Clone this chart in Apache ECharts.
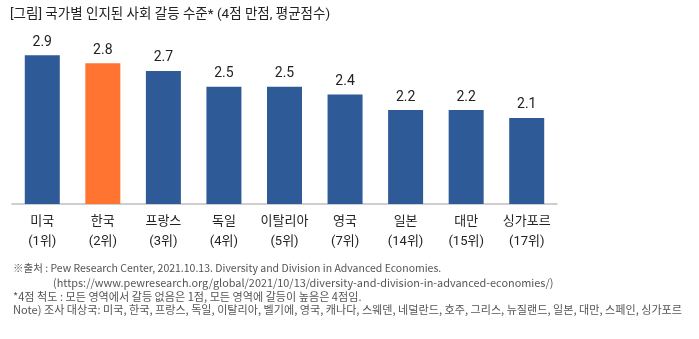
<!DOCTYPE html>
<html>
<head>
<meta charset="utf-8">
<script src="https://cdn.jsdelivr.net/npm/echarts@6/dist/echarts.min.js"></script>
<style>
html,body{margin:0;padding:0;background:#fff;}
#chart{width:699px;height:339px;}
</style>
</head>
<body>
<div id="chart"></div>
<script>
// 국가별 인지된 사회 갈등 수준 (4점 만점, 평균점수)
const countries = ['미국', '한국', '프랑스', '독일', '이탈리아', '영국', '일본', '대만', '싱가포르'];
const ranks = ['(1위)', '(2위)', '(3위)', '(4위)', '(5위)', '(7위)', '(14위)', '(15위)', '(17위)'];
const scores = [2.9, 2.8, 2.7, 2.5, 2.5, 2.4, 2.2, 2.2, 2.1];
const highlight = '한국';

const titleText = '[그림] 국가별 인지된 사회 갈등 수준* (4점 만점, 평균점수)';
const notes = [
  '※출처 : Pew Research Center, 2021.10.13. Diversity and Division in Advanced Economies.',
  '(https://www.pewresearch.org/global/2021/10/13/diversity-and-division-in-advanced-economies/)',
  '*4점 척도 : 모든 영역에서 갈등 없음은 1점, 모든 영역에 갈등이 높음은 4점임.',
  'Note) 조사 대상국: 미국, 한국, 프랑스, 독일, 이탈리아, 벨기에, 영국, 캐나다, 스웨덴, 네덜란드, 호주, 그리스, 뉴질랜드, 일본, 대만, 스페인, 싱가포르'
];

const FONT = 'Roboto, "Noto Sans CJK KR", sans-serif';
const BLUE = '#2E5A97';
const ORANGE = '#FF7430';

const chart = echarts.init(document.getElementById('chart'), null, {renderer: 'canvas'});

function note(text, left, top, size) {
  return {
    type: 'text', left: left, top: top,
    style: {text: text, fontFamily: '"Noto Sans CJK KR", sans-serif', fontSize: size, fill: '#555'}
  };
}

chart.setOption({
  animation: false,
  backgroundColor: '#fff',
  grid: {left: 12, right: 142, top: 47.5, bottom: 135, containLabel: false},
  xAxis: {
    type: 'category',
    data: countries,
    axisLine: {show: true, lineStyle: {color: '#BFBFBF', width: 1.5}},
    axisTick: {show: false},
    axisLabel: {
      interval: 0,
      margin: 8,
      fontFamily: FONT,
      fontSize: 13,
      lineHeight: 20,
      color: '#222',
      formatter: (v, i) => v + '\n' + ranks[i]
    }
  },
  yAxis: {
    type: 'value',
    min: 1,
    max: 3,
    show: false,
    splitLine: {show: false}
  },
  series: [{
    type: 'bar',
    barWidth: 35,
    data: scores.map((v, i) => ({
      value: v,
      itemStyle: {color: countries[i] === highlight ? ORANGE : BLUE}
    })),
    label: {
      show: true,
      position: 'top',
      distance: 6,
      fontFamily: FONT,
      fontSize: 14,
      color: '#222',
      formatter: p => p.value.toFixed(1)
    }
  }],
  graphic: [
    {type: 'text', left: 10, top: 8, style: {text: titleText, fontFamily: FONT, fontSize: 13.5, fill: '#222'}},
    note(notes[0], 13, 263, 10.5),
    note(notes[1], 53, 277, 10.9),
    note(notes[2], 13, 291, 11.1),
    note(notes[3], 13, 304, 11.1)
  ]
});
</script>
</body>
</html>
